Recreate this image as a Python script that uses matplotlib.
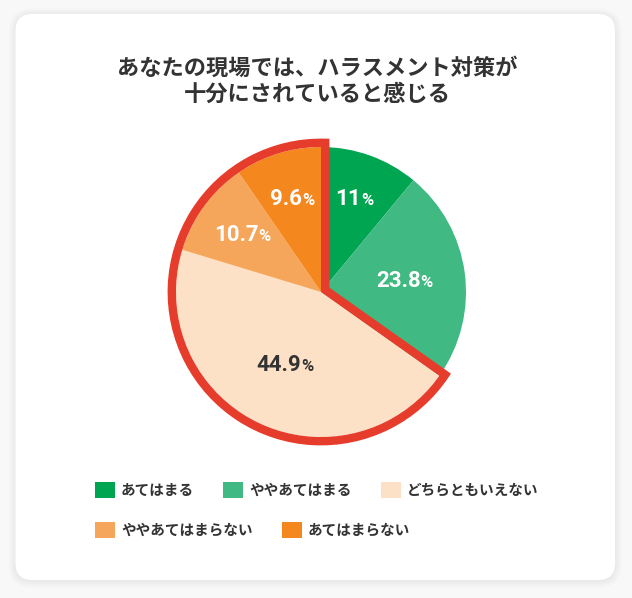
import numpy as np
import matplotlib
matplotlib.use('Agg')
import matplotlib.pyplot as plt
from matplotlib.patches import FancyBboxPatch, PathPatch
from matplotlib.path import Path
from matplotlib.offsetbox import TextArea, HPacker, AnnotationBbox

plt.rcParams['font.family'] = ['Noto Sans CJK JP', 'DejaVu Sans']

# data
title_lines = ['あなたの現場では、ハラスメント対策が', '十分にされていると感じる']
labels = ['あてはまる', 'ややあてはまる', 'どちらともいえない', 'ややあてはまらない', 'あてはまらない']
values = [11, 23.8, 44.9, 10.7, 9.6]
value_text = ['11', '23.8', '44.9', '10.7', '9.6']
colors = ['#00A551', '#40B982', '#FDE1C7', '#F6A65A', '#F5871F']
text_colors = ['white', 'white', '#333333', 'white', 'white']
highlight = [False, False, True, True, True]

W, H = 632, 598
DARK = '#333333'
RED = '#E63C2B'

fig = plt.figure(figsize=(W / 100, H / 100), dpi=100, facecolor='#F8F8F8')
ax = fig.add_axes([0, 0, 1, 1])

# card with soft shadow (pixel coordinates, y going up)
card_x, card_y, card_w, card_h = 15.5, H - 580, 599.5, 566
for i in range(1, 8):
    ax.add_patch(FancyBboxPatch((card_x - i, card_y - i - 1), card_w + 2 * i, card_h + 2 * i,
                                boxstyle='round,pad=0,rounding_size=%d' % (17 + i),
                                fc='black', ec='none', alpha=0.007, zorder=0))
ax.add_patch(FancyBboxPatch((card_x, card_y), card_w, card_h,
                            boxstyle='round,pad=0,rounding_size=17',
                            fc='white', ec='none', zorder=0.5))

# pie
cx, cy, r = 321, H - 292, 145
wedges, _ = ax.pie(values, colors=colors, startangle=90, counterclock=False,
                   center=(cx, cy), radius=r, wedgeprops=dict(linewidth=0))

# red outline drawn outside the highlighted group
half = 4.2
a1 = 90.0
a2 = 90.0 + 3.6 * sum(v for v, h in zip(values, highlight) if h)
R = r + half
delta = np.degrees(np.arcsin(half / R))
arc = Path.arc(a1 - delta, a2 + delta)
verts = arc.vertices * R + [cx, cy]
ext = 360 - (a2 - a1)
bis = np.radians(a2 + ext / 2)
dist = half / np.sin(np.radians(ext / 2))
tip = [cx + dist * np.cos(bis), cy + dist * np.sin(bis)]
outline = Path(np.vstack([verts, tip, verts[0]]),
               np.concatenate([arc.codes, [Path.LINETO, Path.CLOSEPOLY]]))
ax.add_patch(PathPatch(outline, fill=False, ec=RED, lw=2 * half * 0.72,
                       joinstyle='miter', zorder=3))

# percentage labels
label_dist = [0.68, 0.58, 0.56, 0.67, 0.67]
for w, txt, tc, d in zip(wedges, value_text, text_colors, label_dist):
    ang = np.radians((w.theta1 + w.theta2) / 2)
    x = cx + d * r * np.cos(ang)
    y = cy + d * r * np.sin(ang)
    box = HPacker(children=[
        TextArea(txt, textprops=dict(family='Roboto', weight='bold', size=16, color=tc)),
        TextArea('%', textprops=dict(family='Roboto', weight='bold', size=12, color=tc)),
    ], align='baseline', pad=0, sep=0)
    ax.add_artist(AnnotationBbox(box, (x, y), frameon=False, pad=0,
                                 box_alignment=(0.5, 0.5), zorder=4))

ax.set_xlim(0, W)
ax.set_ylim(0, H)
ax.set_aspect('auto')
ax.axis('off')

# title
fig.text(317 / W, 1 - 68 / H, title_lines[0], ha='center', va='center',
         fontsize=16, weight='bold', color=DARK)
fig.text(317 / W, 1 - 94 / H, title_lines[1], ha='center', va='center',
         fontsize=16, weight='bold', color=DARK)

# legend in two rows
leg_prop = dict(family='Noto Sans CJK JP', weight='bold', size=10.5)
common = dict(loc='center left', frameon=False, prop=leg_prop, labelcolor=DARK,
              handlelength=1.37, handleheight=1.37, handletextpad=0.41,
              columnspacing=2.0, borderpad=0, borderaxespad=0)
fig.legend(wedges[:3], labels[:3], ncol=3, bbox_to_anchor=(95 / W, 1 - 490 / H), **common)
fig.legend(wedges[3:], labels[3:], ncol=2, bbox_to_anchor=(95 / W, 1 - 530 / H), **common)

fig.savefig('out.png', dpi=100, facecolor=fig.get_facecolor())
